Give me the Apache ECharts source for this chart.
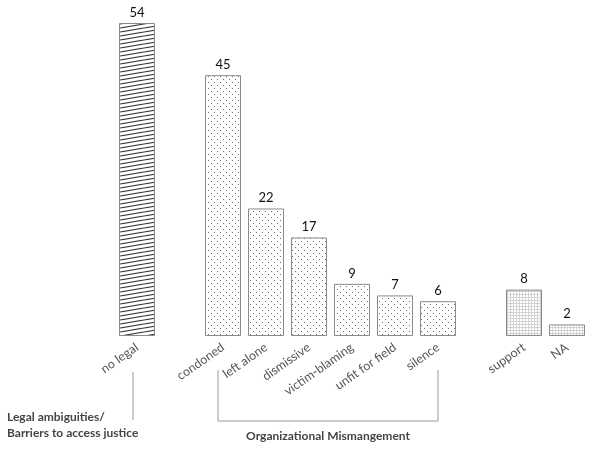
<!DOCTYPE html>
<html>
<head>
<meta charset="utf-8">
<script src="https://cdn.jsdelivr.net/npm/echarts@6/dist/echarts.min.js"></script>
<style>
html,body{margin:0;padding:0;background:#fff;}
#chart{width:600px;height:449px;}
</style>
</head>
<body>
<div id="chart"></div>
<script>
// ---- data ----
const legalCategories = ['no legal'];
const legalValues = [54];
const orgCategories = ['condoned', 'left alone', 'dismissive', 'victim-blaming', 'unfit for field', 'silence'];
const orgValues = [45, 22, 17, 9, 7, 6];
const otherCategories = ['support', 'NA'];
const otherValues = [8, 2];
const legalGroupLabel = 'Legal ambiguities/\nBarriers to access justice';
const orgGroupLabel = 'Organizational Mismangement';

// ---- patterns ----
function makeCanvas(w, h) {
  const c = document.createElement('canvas');
  c.width = w; c.height = h;
  return c;
}
function hatchPattern() {
  const W = 24, H = 4;
  const c = makeCanvas(W, H);
  const g = c.getContext('2d');
  g.fillStyle = '#fff'; g.fillRect(0, 0, W, H);
  g.strokeStyle = '#3a3a3a'; g.lineWidth = 1.2;
  for (let k = -1; k <= 2; k++) {
    g.beginPath(); g.moveTo(0, H * k + H); g.lineTo(W, H * k); g.stroke();
  }
  return c;
}
function dotPattern() {
  const c = makeCanvas(6, 6);
  const g = c.getContext('2d');
  g.fillStyle = '#fff'; g.fillRect(0, 0, 6, 6);
  g.fillStyle = '#6e6e6e';
  g.fillRect(1, 1, 1, 1);
  g.fillRect(4, 4, 1, 1);
  return c;
}
function gridPattern() {
  const c = makeCanvas(3, 3);
  const g = c.getContext('2d');
  g.fillStyle = '#fff'; g.fillRect(0, 0, 3, 3);
  g.fillStyle = '#d2d2d2';
  g.fillRect(0, 0, 3, 1);
  g.fillRect(0, 0, 1, 3);
  return c;
}
const fills = {
  legal: { image: hatchPattern(), repeat: 'repeat' },
  org: { image: dotPattern(), repeat: 'repeat' },
  other: { image: gridPattern(), repeat: 'repeat' }
};

// ---- build categories / data ----
const categories = [];
const data = [];
function addGroup(cats, vals, key) {
  cats.forEach((c, i) => {
    categories.push(c);
    data.push({ value: vals[i], itemStyle: { color: fills[key], borderColor: '#8a8a8a', borderWidth: 1 } });
  });
}
function addSpacer(name) { categories.push(name); data.push('-'); }
addGroup(legalCategories, legalValues, 'legal');
addSpacer('');
addGroup(orgCategories, orgValues, 'org');
addSpacer(' ');
addGroup(otherCategories, otherValues, 'other');

const FONT = 'Lato, "Open Sans", sans-serif';
const chart = echarts.init(document.getElementById('chart'), null, { renderer: 'canvas' });
chart.setOption({
  animation: false,
  grid: { left: 115.5, right: 11.5, top: 23, bottom: 113, containLabel: false },
  xAxis: {
    type: 'category',
    data: categories,
    axisLine: { show: false },
    axisTick: { show: false },
    axisLabel: { rotate: 35, margin: 10, color: '#555', fontSize: 12.5, fontFamily: FONT, interval: 0 }
  },
  yAxis: { type: 'value', min: 0, max: 54, show: false, splitLine: { show: false } },
  series: [{
    type: 'bar',
    barWidth: 36,
    data: data,
    label: { show: true, position: 'top', distance: 4, color: '#111', fontSize: 13, fontFamily: FONT }
  }]
});

// ---- group annotations ----
const px = name => chart.convertToPixel({ xAxisIndex: 0 }, name);
const xLegal = px(legalCategories[0]) - 4;
const xOrgL = px(orgCategories[0]) - 5;
const xOrgR = px(orgCategories[orgCategories.length - 1]);
const lineStyle = { stroke: '#9a9a9a', lineWidth: 1 };
chart.setOption({
  graphic: [
    { type: 'line', shape: { x1: xLegal, y1: 372, x2: xLegal, y2: 420 }, style: lineStyle, silent: true },
    { type: 'polyline', shape: { points: [[xOrgL, 370], [xOrgL, 421], [xOrgR, 421], [xOrgR, 370]] }, style: Object.assign({ fill: null }, lineStyle), silent: true },
    { type: 'text', left: 7, top: 409, style: { text: legalGroupLabel, fill: '#444', font: 'bold 12px ' + FONT, lineHeight: 16 } },
    { type: 'text', x: (xOrgL + xOrgR) / 2, y: 436, style: { text: orgGroupLabel, fill: '#444', font: 'bold 12px ' + FONT, align: 'center', verticalAlign: 'middle' } }
  ]
});
</script>
</body>
</html>
